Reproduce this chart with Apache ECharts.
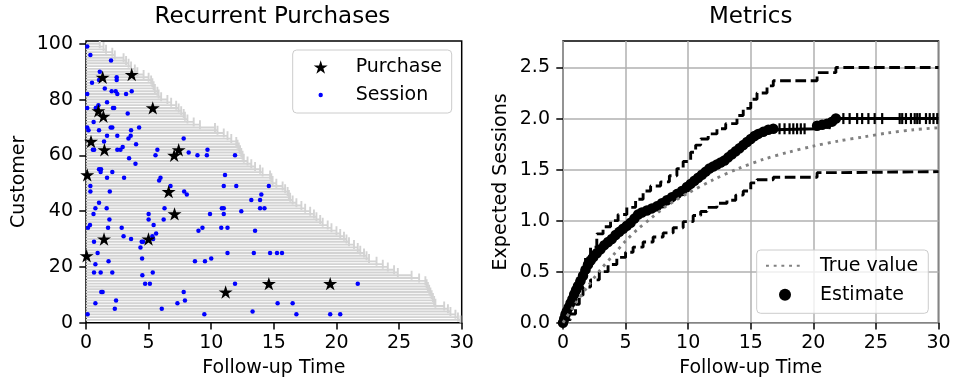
<!DOCTYPE html>
<html>
<head>
<meta charset="utf-8">
<script src="https://cdn.jsdelivr.net/npm/echarts@6/dist/echarts.min.js"></script>
<style>
  html, body { margin: 0; padding: 0; background: #ffffff; }
  #chart { width: 954px; height: 384px; }
</style>
</head>
<body>
<div id="chart"></div>
<script>
// follow-up time of each customer, customer 1 (bottom) .. customer 100 (top)
const followUp = [
  29.9, 29.7, 29.5, 29.1, 28.9, 28.6, 27.9, 27.8, 27.7, 27.6,
  27.5, 27.4, 27.3, 27.2, 27.1, 26.6, 26.0, 24.9, 24.6, 24.1,
  23.7, 23.2, 22.6, 22.4, 22.2, 21.9, 21.7, 21.4, 21.0, 20.8,
  20.6, 20.3, 20.0, 19.6, 19.3, 18.9, 18.7, 18.4, 18.2, 17.9,
  17.5, 17.2, 16.8, 16.5, 16.3, 16.2, 16.1, 15.9, 15.7, 15.2,
  14.9, 14.8, 14.7, 14.1, 13.9, 13.5, 13.2, 12.9, 12.6, 12.5,
  12.4, 12.3, 12.2, 12.1, 12.0, 11.6, 11.3, 11.0, 10.5, 10.3,
  9.1, 8.6, 8.1, 7.9, 7.8, 7.6, 7.4, 7.2, 6.8, 6.5,
  6.0, 5.8, 5.7, 5.5, 5.4, 5.3, 5.2, 5.0, 4.6, 4.1,
  3.9, 3.6, 3.4, 3.2, 3.0, 2.3, 2.1, 1.6, 1.4, 1.1
];

// [time, customer]
const sessions = [
  [0.1, 99], [0.35, 96], [2.0, 94], [1.1, 90], [2.45, 88], [2.45, 87], [1.04, 87], [0.48, 86],
  [1.5, 84], [2.05, 83], [2.37, 83], [2.5, 82], [3.2, 82], [3.65, 83], [0.1, 82], [1.68, 79],
  [0.1, 77], [0.78, 77], [0.99, 78], [2.15, 77], [2.25, 77], [3.33, 75], [0.61, 72], [0.1, 70],
  [0.2, 69], [1.04, 69], [1.97, 70], [2.1, 70], [3.6, 69], [4.24, 70], [1.68, 67], [2.5, 67],
  [3.57, 67], [3.39, 66], [7.8, 66], [1.44, 65], [4.0, 64], [0.55, 62], [0.65, 62], [2.5, 62],
  [2.75, 62], [2.93, 63], [5.7, 62], [5.55, 60], [8.2, 61], [8.9, 60], [9.65, 60], [9.7, 62],
  [11.9, 60], [3.44, 59], [3.95, 57], [1.04, 55], [1.17, 54], [1.2, 55], [2.1, 54], [1.68, 52],
  [3.04, 52], [5.95, 52], [5.84, 51], [11.1, 53], [0.35, 49], [6.75, 49], [11.0, 49], [12.0, 49],
  [14.6, 49], [0.35, 47], [1.9, 47], [7.84, 47], [8.05, 46], [1.04, 43], [0.75, 41], [1.65, 41],
  [6.27, 41], [10.85, 41], [11.0, 41], [13.9, 41], [14.25, 41], [13.2, 44], [13.9, 44], [14.0, 46],
  [0.6, 39], [5.0, 39], [9.9, 39], [11.0, 39], [12.4, 40], [5.0, 37], [1.87, 37], [6.2, 37],
  [0.32, 35], [0.16, 34], [1.76, 34], [2.85, 34], [9.3, 34], [10.8, 34], [11.3, 34], [5.4, 35],
  [8.98, 33], [13.5, 33], [5.6, 32], [3.0, 31], [3.6, 30], [5.3, 31], [5.36, 30], [0.64, 29],
  [4.45, 29], [4.56, 29], [4.35, 27], [0.93, 25], [11.3, 25], [13.4, 25], [14.7, 25], [15.25, 25],
  [15.65, 25], [4.48, 23], [1.8, 22], [8.7, 22], [9.5, 22], [10.0, 23], [0.75, 21], [0.64, 18],
  [1.17, 18], [2.1, 18], [5.33, 18], [4.5, 17], [4.72, 14], [5.1, 14], [11.9, 14], [14.6, 14],
  [21.7, 14], [1.22, 11], [1.33, 11], [7.8, 11], [2.4, 8], [7.9, 8], [0.75, 7], [7.3, 7],
  [15.3, 7], [16.5, 7], [2.3, 5], [6.05, 5], [13.3, 4], [0.13, 3], [9.45, 3], [16.8, 3],
  [19.5, 3], [20.3, 3]
];

const purchases = [
  [1.33, 88], [3.65, 89], [5.33, 77], [0.99, 76], [1.39, 74], [0.4, 65], [1.47, 62], [7.04, 60],
  [7.4, 62], [0.1, 53], [6.6, 47], [7.07, 39], [1.44, 30], [4.99, 30], [0.05, 24], [11.15, 11],
  [14.6, 14], [19.5, 14]
];

// expected sessions estimate (step function, jump points)
const estimateTimes = [
  0.0, 0.1, 0.2, 0.3, 0.45, 0.6, 0.75, 0.9, 1.05, 1.2, 1.4, 1.6, 1.8, 2.0, 2.2, 2.4, 2.7, 3.0,
  3.3, 3.6, 3.9, 4.2, 4.5, 4.8, 5.1, 5.4, 5.7, 6.0, 6.3, 6.7, 7.1, 7.5, 7.9, 8.3, 8.7, 9.1,
  9.5, 9.9, 10.2, 10.5, 10.8, 11.1, 11.4, 11.7, 12.0, 12.3, 12.6, 12.9, 13.2, 13.5, 13.8, 14.1,
  14.4, 14.7, 15.0, 15.3, 15.6, 16.0, 16.4, 16.8, 20.3, 20.7, 21.1, 21.5, 21.8
];
const estimateValues = [
  0.0, 0.04, 0.08, 0.11, 0.15, 0.19, 0.23, 0.28, 0.32, 0.36, 0.41, 0.46, 0.52, 0.57, 0.61, 0.64, 0.68, 0.72,
  0.76, 0.79, 0.82, 0.86, 0.89, 0.92, 0.95, 0.98, 1.02, 1.06, 1.08, 1.10, 1.12, 1.14, 1.17, 1.20, 1.23, 1.26,
  1.29, 1.33, 1.36, 1.39, 1.42, 1.45, 1.48, 1.51, 1.53, 1.55, 1.57, 1.59, 1.62, 1.65, 1.68, 1.71,
  1.74, 1.77, 1.80, 1.83, 1.85, 1.87, 1.89, 1.90, 1.93, 1.94, 1.95, 1.97, 2.0
];
const censorTimes = [
  17.3, 17.7, 18.1, 18.4, 18.7, 19.0, 19.3, 21.3, 22.4, 22.9, 23.5, 23.9, 24.4, 24.9, 25.5,
  26.9, 27.1, 27.4, 27.8, 28.1, 28.3, 28.5, 29.0, 29.3, 29.6, 29.9
];

const upperTimes = [
  0, 0.3, 0.6, 1.1, 1.5, 1.8, 2.2, 2.7, 3.2, 3.8, 4.4, 5.1, 5.8, 6.4, 7.0, 7.8, 8.5, 9.1,
  9.6, 10.2, 10.6, 11.0, 11.6, 12.3, 13.0, 13.9, 14.4, 15.0, 15.5, 16.3, 16.8, 20.3, 21.8, 30
];
const upperValues = [
  0, 0.15, 0.28, 0.41, 0.55, 0.65, 0.74, 0.87, 0.94, 1.0, 1.06, 1.13, 1.21, 1.29, 1.34, 1.38, 1.44, 1.51,
  1.58, 1.67, 1.74, 1.80, 1.85, 1.90, 1.95, 2.03, 2.10, 2.19, 2.25, 2.32, 2.37, 2.45, 2.5, 2.5
];
const lowerTimes = [
  0, 0.3, 0.6, 1.0, 1.3, 1.6, 2.2, 2.9, 3.6, 4.3, 5.0, 5.6, 6.4, 7.2, 8.0, 8.8, 9.6, 10.4,
  11.0, 11.5, 12.3, 13.1, 13.8, 14.4, 15.0, 15.5, 16.8, 20.3, 21.8, 30
];
const lowerValues = [
  0, 0.03, 0.085, 0.18, 0.27, 0.35, 0.42, 0.5, 0.57, 0.64, 0.69, 0.74, 0.79, 0.84, 0.88, 0.93, 0.99, 1.05,
  1.09, 1.13, 1.17, 1.2, 1.25, 1.29, 1.37, 1.40, 1.425, 1.47, 1.48, 1.48
];

const trueTimes = [0, 1, 2, 3, 4, 5, 6, 7, 8, 9, 10, 12, 14, 16, 18, 20, 22, 24, 26, 28, 30];
const trueValues = [0, 0.19, 0.36, 0.52, 0.66, 0.80, 0.92, 1.02, 1.12, 1.20, 1.27, 1.40, 1.51, 1.60, 1.67, 1.73, 1.78, 1.82, 1.86, 1.89, 1.91];

const customerTicks = [0, 20, 40, 60, 80, 100];
const sessionTicks = [0, 0.5, 1, 1.5, 2, 2.5];

const FONT = "DejaVu Sans";
const STAR = "path://M0,-1L0.2245,-0.309L0.951,-0.309L0.363,0.118L0.588,0.809L0,0.382L-0.588,0.809L-0.363,0.118L-0.951,-0.309L-0.2245,-0.309Z";
const DOT = "path://M-7,-7M7,7M-2.2,0A2.2,2.2,0,1,0,2.2,0A2.2,2.2,0,1,0,-2.2,0Z";

function stepValueAt(t) {
  let v = estimateValues[0];
  for (let i = 0; i < estimateTimes.length; i++) {
    if (estimateTimes[i] <= t) v = estimateValues[i];
  }
  return v;
}

const chart = echarts.init(document.getElementById("chart"));

const tickStyle = { show: true, inside: false, length: 6.7, lineStyle: { color: "#000", width: 1.5 } };
const labelStyle = { fontFamily: FONT, fontSize: 19, color: "#000" };
const nameStyle = { fontFamily: FONT, fontSize: 19, color: "#000" };

const estimateData = estimateTimes.map((t, i) => [t, estimateValues[i]]);
estimateData.push({ value: [30, estimateValues[estimateValues.length - 1]], symbol: "none" });

const option = {
  animation: false,
  backgroundColor: "#ffffff",
  title: [
    { text: "Recurrent Purchases", left: 154.5, top: 6, padding: 0,
      textStyle: { fontFamily: FONT, fontSize: 23, fontWeight: "normal", color: "#000" } },
    { text: "Metrics", left: 709, top: 6, padding: 0,
      textStyle: { fontFamily: FONT, fontSize: 23, fontWeight: "normal", color: "#000" } }
  ],
  legend: [
    {
      orient: "vertical", left: 292.7, top: 50, padding: [7.5, 9.7, 8.5, 21], itemGap: 9,
      itemWidth: 14, itemHeight: 14,
      borderColor: "#cccccc", borderWidth: 1, borderRadius: 4, backgroundColor: "rgba(255,255,255,0.8)",
      textStyle: { fontFamily: FONT, fontSize: 19, color: "#000", lineHeight: 19, padding: [0, 0, 0, 23] },
      data: [
        { name: "Purchase", icon: STAR, itemStyle: { opacity: 1 } },
        { name: "Session", icon: DOT, itemStyle: { opacity: 1 } }
      ]
    },
    {
      orient: "vertical", left: 756.7, top: 250, padding: [6.2, 10, 9.1, 8.3], itemGap: 10,
      itemWidth: 38, itemHeight: 12,
      borderColor: "#cccccc", borderWidth: 1, borderRadius: 4, backgroundColor: "rgba(255,255,255,0.8)",
      textStyle: { fontFamily: FONT, fontSize: 19, color: "#000", lineHeight: 19, padding: [0, 0, 0, 11] },
      data: [
        { name: "True value", itemStyle: { opacity: 0 } },
        { name: "Estimate", icon: "circle" }
      ]
    }
  ],
  grid: [
    { left: 86, top: 41, width: 375.7, height: 281.7, show: true, borderColor: "#000", borderWidth: 1.5, backgroundColor: "transparent" },
    { left: 563, top: 41, width: 375.5, height: 281.7, show: true, borderColor: "#000", borderWidth: 1.5, backgroundColor: "transparent" }
  ],
  xAxis: [
    {
      gridIndex: 0, type: "value", min: 0, max: 30, interval: 5,
      axisLine: { show: false }, axisTick: tickStyle,
      axisLabel: Object.assign({ margin: 11 }, labelStyle),
      splitLine: { show: false },
      name: "Follow-up Time", nameLocation: "middle", nameGap: 36, nameTextStyle: nameStyle
    },
    {
      gridIndex: 1, type: "value", min: 0, max: 30, interval: 5,
      axisLine: { show: false }, axisTick: tickStyle,
      axisLabel: Object.assign({ margin: 11 }, labelStyle),
      splitLine: { show: true, lineStyle: { color: "#b0b0b0", width: 1.5 } },
      name: "Follow-up Time", nameLocation: "middle", nameGap: 36, nameTextStyle: nameStyle
    }
  ],
  yAxis: [
    {
      gridIndex: 0, type: "value", min: 0, max: 101,
      axisLine: { show: false },
      axisTick: Object.assign({ customValues: customerTicks }, tickStyle),
      axisLabel: Object.assign({ margin: 13, customValues: customerTicks }, labelStyle),
      splitLine: { show: false },
      name: "Customer", nameLocation: "middle", nameGap: 57, nameTextStyle: nameStyle
    },
    {
      gridIndex: 1, type: "value", min: 0, max: 2.76,
      axisLine: { show: false },
      axisTick: Object.assign({ customValues: sessionTicks }, tickStyle),
      axisLabel: Object.assign({ margin: 13, customValues: sessionTicks,
        formatter: (v) => v.toFixed(1) }, labelStyle),
      splitLine: { show: true, lineStyle: { color: "#b0b0b0", width: 1.5 } },
      name: "Expected Sessions", nameLocation: "middle", nameGap: 52, nameTextStyle: nameStyle
    }
  ],
  series: [
    {
      name: "Follow-up", type: "custom", xAxisIndex: 0, yAxisIndex: 0, silent: true, clip: true,
      data: followUp.map((t, i) => [t, i + 1]),
      encode: { x: 0, y: 1 },
      renderItem: (params, api) => {
        const c = api.value(1);
        const a = api.coord([0, c]);
        const b = api.coord([api.value(0), c]);
        const st = { stroke: "#d3d3d3", lineWidth: 1.9 };
        return {
          type: "group",
          children: [
            { type: "line", shape: { x1: a[0], y1: a[1], x2: b[0], y2: b[1] }, style: st },
            { type: "line", shape: { x1: b[0], y1: b[1] - 4.5, x2: b[0], y2: b[1] + 4.5 }, style: st }
          ]
        };
      }
    },
    {
      name: "Session", type: "scatter", xAxisIndex: 0, yAxisIndex: 0,
      data: sessions, symbol: "circle", symbolSize: 4.5,
      itemStyle: { color: "#0000ff", opacity: 1 }, z: 3
    },
    {
      name: "Purchase", type: "scatter", xAxisIndex: 0, yAxisIndex: 0,
      data: purchases, symbol: STAR, symbolSize: 14, symbolKeepAspect: true,
      itemStyle: { color: "#000000", opacity: 1 }, z: 4
    },
    {
      name: "Upper", type: "line", xAxisIndex: 1, yAxisIndex: 1, step: "end",
      data: upperTimes.map((t, i) => [t, upperValues[i]]),
      symbol: "none", lineStyle: { color: "#000", width: 2.9, type: [10.7, 4.6] }
    },
    {
      name: "Lower", type: "line", xAxisIndex: 1, yAxisIndex: 1, step: "end",
      data: lowerTimes.map((t, i) => [t, lowerValues[i]]),
      symbol: "none", lineStyle: { color: "#000", width: 2.9, type: [10.7, 4.6] }
    },
    {
      name: "Estimate", type: "line", xAxisIndex: 1, yAxisIndex: 1, step: "end",
      data: estimateData, symbol: "circle", symbolSize: 10.5, showAllSymbol: true,
      itemStyle: { color: "#000", opacity: 1 }, lineStyle: { color: "#000", width: 2.9 }, z: 3
    },
    {
      name: "Censored", type: "scatter", xAxisIndex: 1, yAxisIndex: 1,
      data: censorTimes.map((t) => [t, stepValueAt(t)]),
      symbol: "rect", symbolSize: [2.2, 11], itemStyle: { color: "#000", opacity: 1 }, z: 4
    },
    {
      name: "True value", type: "line", xAxisIndex: 1, yAxisIndex: 1,
      data: trueTimes.map((t, i) => [t, trueValues[i]]),
      symbol: "none", smooth: 0.3,
      itemStyle: { color: "#808080" },
      lineStyle: { color: "#808080", width: 2.9, type: [2.9, 4.8] }, z: 5
    }
  ]
};

chart.setOption(option);
</script>
</body>
</html>
